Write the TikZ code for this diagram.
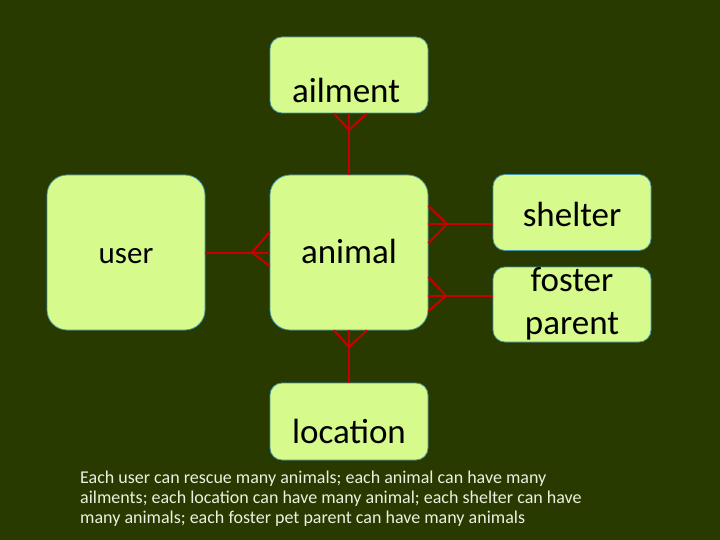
\documentclass[tikz,border=0pt]{standalone}
\usepackage{fontspec}
\setmainfont{Carlito}
\definecolor{bg}{RGB}{40,58,0}
\definecolor{boxfill}{RGB}{214,250,140}
\definecolor{boxline}{RGB}{70,150,170}
\definecolor{rel}{RGB}{200,0,0}
\definecolor{notecol}{RGB}{235,240,225}
\begin{document}
\begin{tikzpicture}[x=1pt,y=-1pt,
  ent/.style={draw=boxline, line width=0.8pt, fill=boxfill, inner sep=0pt, align=center, text=black},
  bigent/.style={ent, minimum width=158pt, minimum height=155pt, rounded corners=20pt},
  smallent/.style={ent, minimum width=158pt, minimum height=76pt, rounded corners=12pt},
  lbl/.style={font=\fontsize{35}{40}\selectfont, anchor=base, inner sep=0pt, text=black},
  notestyle/.style={anchor=base west, text=notecol, inner sep=0pt, font=\fontsize{18}{20}\selectfont},
  relline/.style={draw=rel, line width=2pt}]
\fill[bg] (0,0) rectangle (720,540);
\useasboundingbox (0,0) rectangle (720,540);
\node[bigent] (animal) at (349,252.5) {};
\node[bigent] (user) at (126,252.5) {};
\node[smallent] (ailment) at (349,75) {};
\node[smallent] (shelter) at (572,212.5) {};
\node[smallent, minimum height=75pt] (foster) at (572,304.5) {};
\node[smallent, minimum height=77pt] (location) at (349,421.5) {};
\node[lbl] (animalT) at (349,263) {animal};
\node[lbl, font=\fontsize{31}{36}\selectfont] (userT) at (126,263) {user};
\node[lbl] (ailmentT) at (346,103) {ailment};
\node[lbl] (shelterT) at (572,226) {shelter};
\node[lbl] (fosterT1) at (572,291) {foster};
\node[lbl] (fosterT2) at (572,334) {parent};
\node[lbl] (locationT) at (349,443) {location};
% user - animal
\draw[relline] (user.east) -- (animal.west);
\coordinate (f1) at (252,252.5);
\draw[relline] (animal.west |- 0,232) -- (f1) -- (animal.west |- 0,266);
% ailment - animal
\draw[relline] (ailment.south) -- (animal.north);
\coordinate (f2) at (349,130);
\draw[relline] (ailment.south -| 334,0) -- (f2) -- (ailment.south -| 367,0);
% animal - location
\draw[relline] (animal.south) -- (location.north);
\coordinate (f3) at (349,347);
\draw[relline] (animal.south -| 334,0) -- (f3) -- (animal.south -| 367,0);
% animal - shelter
\draw[relline] (animal.east |- 0,224) -- (shelter.west |- 0,224);
\coordinate (f4) at (447,224);
\draw[relline] (animal.east |- 0,206) -- (f4) -- (animal.east |- 0,243);
% animal - foster
\draw[relline] (animal.east |- 0,296) -- (foster.west |- 0,296);
\coordinate (f5) at (446,296);
\draw[relline] (animal.east |- 0,277) -- (f5) -- (animal.east |- 0,311);
% note
\node[notestyle] (note1) at (80,483) {Each user can rescue many animals; each animal can have many};
\node[notestyle] (note2) at (80,503.5) {ailments; each location can have many animal; each shelter can have};
\node[notestyle] (note3) at (80,523) {many animals; each foster pet parent can have many animals};
\end{tikzpicture}
\end{document}
